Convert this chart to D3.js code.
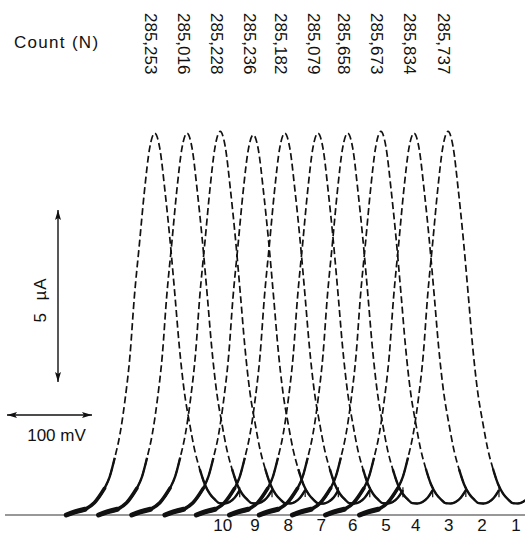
<!DOCTYPE html>
<html><head><meta charset="utf-8">
<script src="https://cdn.jsdelivr.net/npm/d3@7/dist/d3.min.js"></script>
<style>
body{margin:0;background:#fff;}
text{font-family:"Liberation Sans",Arial,sans-serif;fill:#111;}
</style>
</head><body>
<svg id="c" width="525" height="536"></svg>
<script>
// ---- data ----
const curveNumbers = ["10","9","8","7","6","5","4","3","2","1"];
const counts = ["285,253","285,016","285,228","285,236","285,182","285,079","285,658","285,673","285,834","285,737"];
const peakPotentials = [182, 220, 259, 298, 335, 374, 409, 448, 487, 527]; // mV
const peakCurrents = [11.1, 11.1, 11.15, 11.05, 11.1, 11.1, 11.1, 11.15, 11.1, 11.15]; // µA
// single peak profile (offset from peak in mV, fraction of peak current)
const profileOffsets = [-104, -94, -82, -71, -59, -53, -47, -41, -35, -29, -24, -18, -12, -6, 0,
                        6, 12, 18, 24, 29, 35, 41, 47, 53, 59, 65, 71, 76, 82, 88, 94, 100];
const profileFractions = [0.0, 0.008, 0.015, 0.032, 0.07, 0.10, 0.15, 0.21, 0.30, 0.42, 0.57, 0.71, 0.85, 0.96, 1.0,
                          0.96, 0.85, 0.72, 0.57, 0.44, 0.32, 0.24, 0.17, 0.12, 0.08, 0.055, 0.04, 0.031, 0.03, 0.034, 0.045, 0.065];
const scaleCurrent = 5;    // µA
const scaleVoltage = 100;  // mV

// ---- scales ----
const W = 525, H = 536;
const x = d3.scaleLinear().domain([0, 617.6]).range([0, W]);
const y = d3.scaleLinear().domain([0, 15]).range([515, -1]);
const svg = d3.select("#c");

const defs = svg.append("defs");
defs.append("marker").attr("id","ah").attr("viewBox","0 0 10 8").attr("refX",10).attr("refY",4)
  .attr("markerWidth",10).attr("markerHeight",8).attr("markerUnits","userSpaceOnUse").attr("orient","auto-start-reverse")
  .append("path").attr("d","M0,1 L10,4 L0,7 L2,4 Z").attr("fill","#111");

// baseline
svg.append("line").attr("x1",5).attr("x2",W).attr("y1",y(0)).attr("y2",y(0))
  .attr("stroke","#333").attr("stroke-width",1.2);

const line = d3.line().x(d=>x(d.v)).y(d=>y(d.i)).curve(d3.curveMonotoneX);

peakPotentials.forEach((p,k)=>{
  const pts = profileOffsets.map((o,j)=>({v:p+o, i:peakCurrents[k]*profileFractions[j]}));
  const g = svg.append("g");
  g.append("path").attr("d", line(pts)).attr("fill","none").attr("stroke","#111")
    .attr("stroke-width",1.7).attr("stroke-dasharray","7,3.5");
  // slow (dense) parts of the trace appear solid
  g.append("path").attr("d", line(pts.filter((d,j)=>profileOffsets[j] <= -47))).attr("fill","none")
    .attr("stroke","#111").attr("stroke-width",2.4);
  g.append("path").attr("d", line(pts.filter((d,j)=>profileOffsets[j] <= -59))).attr("fill","none")
    .attr("stroke","#111").attr("stroke-width",3.6).attr("stroke-linecap","round");
  g.append("path").attr("d", line(pts.filter((d,j)=>profileOffsets[j] <= -82))).attr("fill","none")
    .attr("stroke","#111").attr("stroke-width",5).attr("stroke-linecap","round");
  g.append("path").attr("d", line(pts.filter((d,j)=>profileOffsets[j] >= 53))).attr("fill","none")
    .attr("stroke","#111").attr("stroke-width",2.4);
  const last = pts[pts.length-1];
  g.append("line").attr("x1",x(last.v)).attr("x2",x(last.v)).attr("y1",y(last.i)-3).attr("y2",y(last.i)+7)
    .attr("stroke","#111").attr("stroke-width",1.2);
});

// top count labels
svg.append("text").attr("x",14).attr("y",48).attr("font-size",17).attr("letter-spacing",1.3).text("Count (N)");
peakPotentials.forEach((p,k)=>{
  svg.append("text").attr("transform",`translate(${x(p)-4},13) rotate(90)`)
    .attr("font-size",17).attr("dominant-baseline","central").text(counts[k]);
});

// bottom curve numbers
peakPotentials.forEach((p,k)=>{
  svg.append("text").attr("x",x(p+80)).attr("y",531).attr("text-anchor","middle")
    .attr("font-size",17).text(curveNumbers[k]);
});

// scale bars
const vLen = y(0)-y(scaleCurrent);
svg.append("line").attr("x1",58).attr("x2",58).attr("y1",210).attr("y2",210+vLen)
  .attr("stroke","#111").attr("stroke-width",1.4)
  .attr("marker-start","url(#ah)").attr("marker-end","url(#ah)");
svg.append("text").attr("transform",`translate(40,${210+vLen/2+4}) rotate(-90)`)
  .attr("text-anchor","middle").attr("dominant-baseline","central").attr("font-size",17)
  .attr("letter-spacing",1).text(scaleCurrent + "\u00a0 µA");
const hLen = x(scaleVoltage)-x(0);
svg.append("line").attr("x1",7).attr("x2",7+hLen).attr("y1",415).attr("y2",415)
  .attr("stroke","#111").attr("stroke-width",1.4)
  .attr("marker-start","url(#ah)").attr("marker-end","url(#ah)");
svg.append("text").attr("x",7+hLen/2+7).attr("y",441).attr("text-anchor","middle")
  .attr("font-size",17).text(scaleVoltage + " mV");
</script>
</body></html>
